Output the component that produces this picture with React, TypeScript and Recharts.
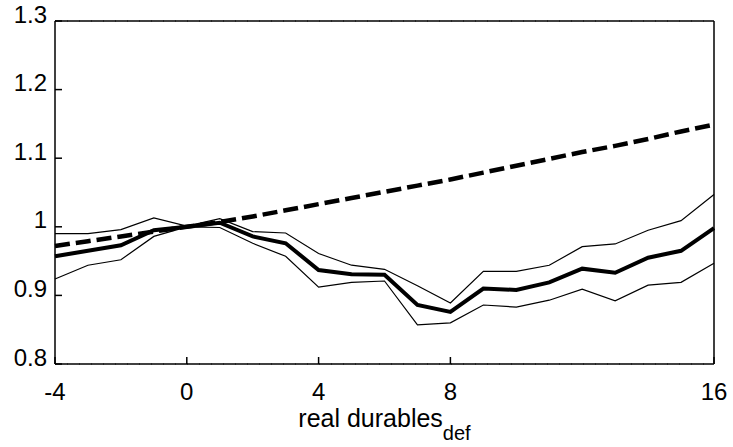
import React from 'react';
import {
  LineChart,
  Line,
  XAxis,
  YAxis,
  CartesianGrid
} from 'recharts';

const horizon = [-4, -3, -2, -1, 0, 1, 2, 3, 4, 5, 6, 7, 8, 9, 10, 11, 12, 13, 14, 15, 16];
const response = [0.957, 0.965, 0.973, 0.995, 1.0, 1.006, 0.986, 0.976, 0.937, 0.931, 0.93, 0.886, 0.876, 0.91, 0.908, 0.919, 0.939, 0.933, 0.955, 0.965, 0.998];
const upperBand = [0.99, 0.99, 0.996, 1.013, 1.001, 1.012, 0.993, 0.991, 0.961, 0.944, 0.938, 0.914, 0.889, 0.935, 0.935, 0.944, 0.971, 0.975, 0.995, 1.009, 1.047];
const lowerBand = [0.924, 0.944, 0.952, 0.986, 1.0, 0.999, 0.976, 0.957, 0.912, 0.919, 0.921, 0.857, 0.86, 0.886, 0.883, 0.893, 0.909, 0.892, 0.915, 0.919, 0.947];
const trend = [0.972, 0.979, 0.986, 0.993, 1.0, 1.007, 1.015, 1.024, 1.033, 1.042, 1.051, 1.06, 1.069, 1.079, 1.089, 1.099, 1.109, 1.118, 1.128, 1.139, 1.149];

const xTicks = [-4, 0, 4, 8, 16];
const yTicks = [0.8, 0.9, 1, 1.1, 1.2, 1.3];

const data = horizon.map((h, i) => ({
  x: h,
  response: response[i],
  upper: upperBand[i],
  lower: lowerBand[i],
  trend: trend[i]
}));

const FONT = '"Liberation Sans", Arial, Helvetica, sans-serif';
const TICK_FONT = 24;

const AxisLabel = (props: any) => {
  const { viewBox } = props;
  const cx = viewBox.x + viewBox.width / 2;
  return (
    <text x={cx} y={427} textAnchor="middle" fontFamily={FONT} fontSize={25} fill="#000">
      real durables
      <tspan dy={13} fontSize={20}>def</tspan>
    </text>
  );
};

// y labels sit a little above their tick, as in the original
const YTick = (props: any) => {
  const { x, y, payload } = props;
  return (
    <text
      x={x}
      y={y - 7}
      textAnchor="end"
      dominantBaseline="central"
      fontFamily={FONT}
      fontSize={TICK_FONT}
      fill="#000"
    >
      {String(Math.round(payload.value * 10) / 10)}
    </text>
  );
};

const XTick = (props: any) => {
  const { x, y, payload } = props;
  return (
    <text
      x={x}
      y={y + 8}
      textAnchor="middle"
      dominantBaseline="central"
      fontFamily={FONT}
      fontSize={TICK_FONT}
      fill="#000"
    >
      {payload.value}
    </text>
  );
};

const App: React.FC = () => {
  return (
    <div style={{ position: 'absolute', left: 0, top: 0, background: '#fff' }}>
      <LineChart
        width={733}
        height={447}
        data={data}
        margin={{ top: 20, right: 18, left: 0, bottom: 0 }}
      >
        <CartesianGrid vertical={false} stroke="#222" strokeDasharray="1 11" />
        <XAxis
          xAxisId="bottom"
          dataKey="x"
          type="number"
          domain={[-4, 16]}
          ticks={xTicks}
          height={83}
          stroke="#000"
          strokeWidth={1.5}
          tickSize={-7}
          tickMargin={26}
          tick={<XTick />}
          interval={0}
          label={<AxisLabel />}
        />
        <XAxis
          xAxisId="top"
          orientation="top"
          dataKey="x"
          type="number"
          domain={[-4, 16]}
          ticks={xTicks}
          height={1}
          stroke="#000"
          strokeWidth={1.5}
          tickSize={-7}
          tick={false}
        />
        <YAxis
          yAxisId="left"
          type="number"
          domain={[0.8, 1.3]}
          ticks={yTicks}
          width={55}
          stroke="#000"
          strokeWidth={1.5}
          tickSize={-7}
          tickMargin={15}
          tick={<YTick />}
          interval={0}
        />
        <YAxis
          yAxisId="right"
          orientation="right"
          type="number"
          domain={[0.8, 1.3]}
          ticks={yTicks}
          width={1}
          stroke="#000"
          strokeWidth={1.5}
          tickSize={-7}
          tick={false}
        />
        <Line
          xAxisId="bottom"
          yAxisId="left"
          type="linear"
          dataKey="upper"
          stroke="#000"
          strokeWidth={1.2}
          dot={false}
          isAnimationActive={false}
        />
        <Line
          xAxisId="bottom"
          yAxisId="left"
          type="linear"
          dataKey="lower"
          stroke="#000"
          strokeWidth={1.2}
          dot={false}
          isAnimationActive={false}
        />
        <Line
          xAxisId="bottom"
          yAxisId="left"
          type="linear"
          dataKey="response"
          stroke="#000"
          strokeWidth={4}
          dot={false}
          isAnimationActive={false}
        />
        <Line
          xAxisId="bottom"
          yAxisId="left"
          type="linear"
          dataKey="trend"
          stroke="#000"
          strokeWidth={4.5}
          strokeDasharray="15 6"
          dot={false}
          isAnimationActive={false}
        />
      </LineChart>
    </div>
  );
};

export default App;
